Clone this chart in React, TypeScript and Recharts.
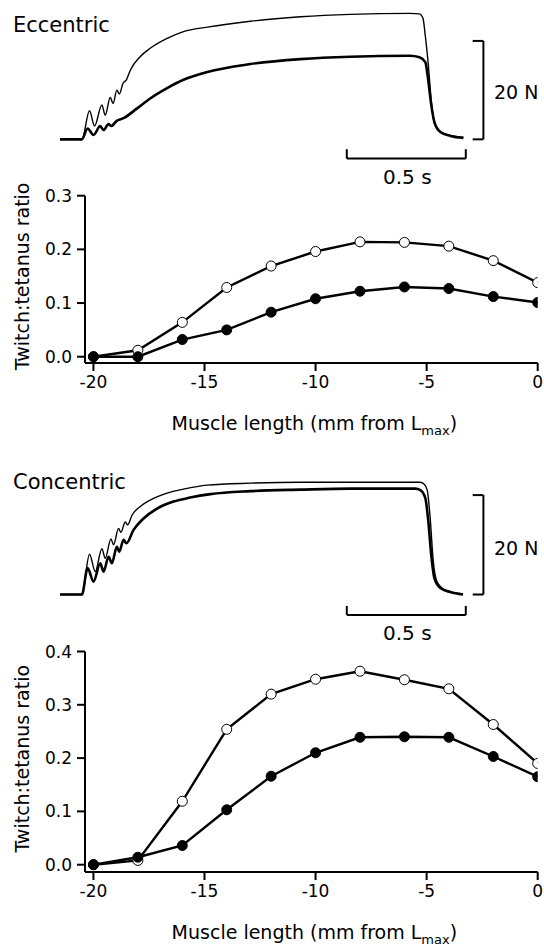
import React from "react"
import { LineChart, Line, XAxis, YAxis, ReferenceLine } from "recharts"

const FONT = "'DejaVu Sans', Verdana, sans-serif"

// muscle length (mm from Lmax)
const lengths = [-20, -18, -16, -14, -12, -10, -8, -6, -4, -2, 0]

// twitch:tetanus ratio
const eccentricOpen = [0, 0.012, 0.064, 0.129, 0.169, 0.196, 0.214, 0.213, 0.206, 0.179, 0.138]
const eccentricFilled = [0, 0, 0.032, 0.05, 0.083, 0.108, 0.122, 0.13, 0.127, 0.112, 0.101]
const concentricOpen = [0, 0.008, 0.119, 0.254, 0.32, 0.348, 0.363, 0.347, 0.33, 0.263, 0.19]
const concentricFilled = [0, 0.014, 0.036, 0.103, 0.166, 0.21, 0.239, 0.24, 0.239, 0.203, 0.165]

const lengthTicks = [-20, -15, -10, -5, 0]
const eccentricTicks = [0, 0.1, 0.2, 0.3]
const concentricTicks = [0, 0.1, 0.2, 0.3, 0.4]

// force traces, [time s, force N]
const eccUpper = [
  [0, 0], [0.092, 0], [0.124, 5.8], [0.145, 2.7], [0.176, 7.0], [0.19, 4.9], [0.211, 8.5],
  [0.223, 7.3], [0.239, 10.0], [0.249, 9.2], [0.265, 11.4], [0.279, 12.1], [0.296, 14.1],
  [0.337, 16.8], [0.379, 18.5], [0.45, 20.5], [0.519, 21.9], [0.619, 22.8], [0.8, 24.0],
  [1.01, 24.9], [1.22, 25.4], [1.47, 25.6], [1.51, 25.5], [1.525, 24.6], [1.535, 21.0],
  [1.547, 15.5], [1.56, 7.8], [1.572, 3.5], [1.598, 1.5], [1.64, 0.8], [1.695, 0.4],
]
const eccLower = [
  [0, 0], [0.092, 0], [0.116, 2.2], [0.141, 0.9], [0.169, 2.7], [0.183, 1.9], [0.204, 3.1],
  [0.216, 2.7], [0.237, 3.7], [0.267, 4.3], [0.324, 6.3], [0.379, 8.3], [0.45, 10.4],
  [0.519, 12.1], [0.619, 13.7], [0.8, 15.3], [1.01, 16.3], [1.22, 16.8], [1.47, 17.0],
  [1.51, 16.7], [1.535, 15.7], [1.547, 12.1], [1.56, 7.0], [1.573, 3.5], [1.598, 1.5],
  [1.64, 0.7], [1.695, 0.3],
]
const conUpper = [
  [0, 0], [0.092, 0], [0.124, 8.1], [0.148, 4.6], [0.176, 9.2], [0.19, 7.3], [0.214, 11.2],
  [0.225, 10.0], [0.246, 13.3], [0.256, 12.5], [0.274, 14.6], [0.284, 14.0], [0.303, 16.0],
  [0.337, 17.7], [0.379, 19.0], [0.45, 20.4], [0.519, 21.2], [0.618, 22.0], [0.8, 22.4],
  [1.01, 22.6], [1.514, 22.6], [1.53, 22.2], [1.543, 21.0], [1.556, 15.0], [1.568, 6.9],
  [1.585, 2.5], [1.619, 0.9], [1.693, 0.1],
]
const conLower = [
  [0, 0], [0.092, 0], [0.116, 5.3], [0.141, 2.6], [0.169, 6.3], [0.183, 4.6], [0.204, 7.6],
  [0.218, 6.3], [0.239, 9.6], [0.249, 8.6], [0.267, 11.0], [0.279, 10.3], [0.309, 13.0],
  [0.351, 15.3], [0.408, 17.3], [0.477, 18.7], [0.547, 19.5], [0.632, 20.2], [0.8, 20.8],
  [1.01, 21.1], [1.22, 21.3], [1.493, 21.3], [1.514, 21.0], [1.535, 19.4], [1.547, 15.0],
  [1.56, 7.9], [1.573, 3.3], [1.598, 1.3], [1.64, 0.5], [1.693, 0],
]

const toPoints = (arr: number[][]) => arr.map(([t, f]) => ({ t, f }))

function Text({ left, top, children, size = 19 }: any) {
  return (
    <div
      style={{
        position: "absolute",
        left,
        top,
        fontFamily: FONT,
        fontSize: size,
        lineHeight: "20px",
        color: "#000",
        whiteSpace: "nowrap",
      }}
    >
      {children}
    </div>
  )
}

function TracePanel({ top, height, mTop, mBottom, domain, upper, lower, barY, capY, title, titleTop }: any) {
  const stroke = { stroke: "#000", strokeWidth: 2 }
  return (
    <div style={{ position: "absolute", left: 0, top, width: 544, height }}>
      <LineChart width={544} height={height} margin={{ top: mTop, right: 8, bottom: mBottom, left: 60 }}>
        <XAxis type="number" dataKey="t" domain={[0, 2]} hide allowDataOverflow />
        <YAxis type="number" dataKey="f" domain={domain} hide allowDataOverflow />
        <Line data={toPoints(lower)} dataKey="f" type="monotone" stroke="#000" strokeWidth={2.6} dot={false} isAnimationActive={false} />
        <Line data={toPoints(upper)} dataKey="f" type="monotone" stroke="#000" strokeWidth={1.4} dot={false} isAnimationActive={false} />
        {/* 20 N scale bar */}
        <ReferenceLine segment={[{ x: 1.779, y: 0 }, { x: 1.779, y: 20 }]} {...stroke} />
        <ReferenceLine segment={[{ x: 1.734, y: 20 }, { x: 1.779, y: 20 }]} {...stroke} />
        <ReferenceLine segment={[{ x: 1.734, y: 0 }, { x: 1.779, y: 0 }]} {...stroke} />
        {/* 0.5 s scale bar */}
        <ReferenceLine segment={[{ x: 1.205, y: barY }, { x: 1.705, y: barY }]} {...stroke} />
        <ReferenceLine segment={[{ x: 1.205, y: barY }, { x: 1.205, y: capY }]} {...stroke} />
        <ReferenceLine segment={[{ x: 1.705, y: barY }, { x: 1.705, y: capY }]} {...stroke} />
      </LineChart>
      <Text left={13} top={titleTop} size={21}>{title}</Text>
    </div>
  )
}

function XTitle({ viewBox }: any) {
  const x = (viewBox?.x ?? 85) + (viewBox?.width ?? 452) / 2 + 3
  const y = (viewBox?.y ?? 0) + 67
  return (
    <text x={x} y={y} textAnchor="middle" fontFamily={FONT} fontSize={19} fill="#000">
      Muscle length (mm from L
      <tspan fontSize={13} dy={5}>max</tspan>
      <tspan dy={-5}>)</tspan>
    </text>
  )
}

function YTitle({ viewBox }: any) {
  const cy = (viewBox?.y ?? 0) + (viewBox?.height ?? 0) / 2 - 3
  const x = 29
  return (
    <text x={x} y={cy} transform={`rotate(-90, ${x}, ${cy})`} textAnchor="middle" fontFamily={FONT} fontSize={19} fill="#000">
      Twitch:tetanus ratio
    </text>
  )
}

function RatioPanel({ top, height, mTop, xHeight, domain, ticks, open, filled }: any) {
  const data = lengths.map((x, i) => ({ x, open: open[i], filled: filled[i] }))
  const line = { stroke: "#000", strokeWidth: 2 }
  const tick = { fill: "#000", fontSize: 17, fontFamily: FONT }
  return (
    <div style={{ position: "absolute", left: 0, top }}>
      <LineChart width={544} height={height} data={data} margin={{ top: mTop, right: 6.3, bottom: 0, left: 0 }}>
        <XAxis
          type="number"
          dataKey="x"
          domain={[-20.38, 0]}
          ticks={lengthTicks}
          allowDataOverflow
          height={xHeight}
          tickSize={8}
          tickMargin={5}
          axisLine={line}
          tickLine={line}
          tick={tick}
          label={<XTitle />}
        />
        <YAxis
          type="number"
          domain={domain}
          ticks={ticks}
          allowDataOverflow
          width={85}
          tickSize={8}
          tickMargin={5}
          axisLine={line}
          tickLine={line}
          tick={tick}
          tickFormatter={(v: number) => v.toFixed(1)}
          label={<YTitle />}
        />
        <Line dataKey="open" type="linear" stroke="#000" strokeWidth={2.4} dot={{ r: 5, fill: "#fff", stroke: "#000", strokeWidth: 1 }} isAnimationActive={false} />
        <Line dataKey="filled" type="linear" stroke="#000" strokeWidth={2.4} dot={{ r: 5, fill: "#000", stroke: "#000", strokeWidth: 1 }} isAnimationActive={false} />
      </LineChart>
    </div>
  )
}

export default function App() {
  return (
    <div style={{ position: "absolute", left: 0, top: 0, width: 544, height: 946, background: "#fff" }}>
      <TracePanel
        top={0}
        height={180}
        mTop={11.4}
        mBottom={6.2}
        domain={[-7, 26]}
        upper={eccUpper}
        lower={eccLower}
        barY={-3.9}
        capY={-2.0}
        title="Eccentric"
        titleTop={15}
      />
      <Text left={494} top={82}>20 N</Text>
      <Text left={383} top={167} size={20}>0.5 s</Text>
      <RatioPanel
        top={180}
        height={260}
        mTop={15.7}
        xHeight={77}
        domain={[-0.0117, 0.3]}
        ticks={eccentricTicks}
        open={eccentricOpen}
        filled={eccentricFilled}
      />
      <TracePanel
        top={450}
        height={200}
        mTop={20.25}
        mBottom={20.7}
        domain={[-7, 25]}
        upper={conUpper}
        lower={conLower}
        barY={-4.1}
        capY={-2.3}
        title="Concentric"
        titleTop={22}
      />
      <Text left={494} top={538}>20 N</Text>
      <Text left={383} top={623} size={20}>0.5 s</Text>
      <RatioPanel
        top={640}
        height={306}
        mTop={11.5}
        xHeight={74}
        domain={[-0.0137, 0.4]}
        ticks={concentricTicks}
        open={concentricOpen}
        filled={concentricFilled}
      />
    </div>
  )
}
